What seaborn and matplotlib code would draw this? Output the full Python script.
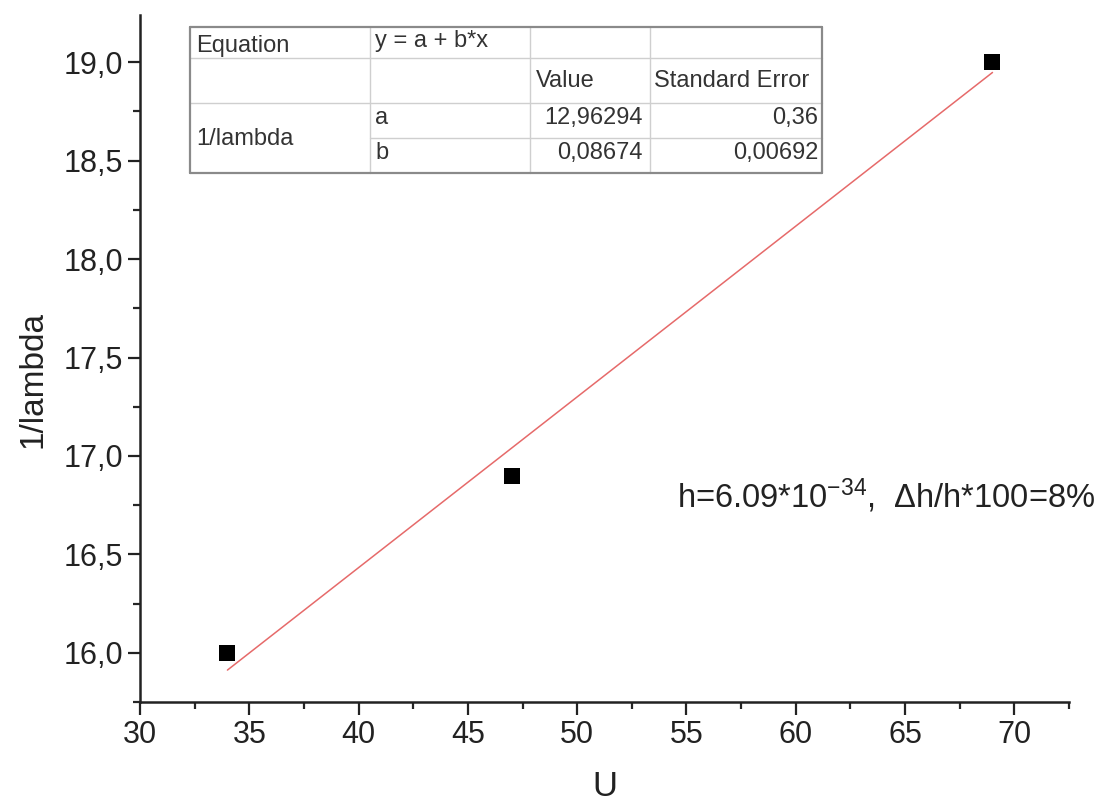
import numpy as np
import pandas as pd
import seaborn as sns
import matplotlib.pyplot as plt
from matplotlib.ticker import MultipleLocator, FuncFormatter
from matplotlib.lines import Line2D

# measured points
U = [34, 47, 69]
inv_lambda = [16.0, 16.9, 19.0]

# fit summary table (as printed on the chart)
tab_equation = 'y = a + b*x'
tab_header = ['Value', 'Standard Error']
tab_params = ['a', 'b']
tab_values = ['12,96294', '0,08674']
tab_errors = ['0,36', '0,00692']
tab_dep = '1/lambda'

note = r'h=6.09*10$^{-34}$,  Δh/h*100=8%'

sns.set_style('ticks')
plt.rcParams['font.family'] = ['Liberation Sans', 'DejaVu Sans']
plt.rcParams['mathtext.fontset'] = 'custom'
plt.rcParams['mathtext.rm'] = 'Liberation Sans'
plt.rcParams['mathtext.it'] = 'Liberation Sans:italic'

df = pd.DataFrame({'U': U, '1/lambda': inv_lambda})

W, H = 1105, 810
fig = plt.figure(figsize=(W / 100, H / 100), dpi=100)
ax = fig.add_axes([140 / W, 1 - 702 / H, (1069 - 140) / W, (702 - 15) / H])

sns.regplot(data=df, x='U', y='1/lambda', ci=None, truncate=True, scatter=False,
            line_kws={'color': '#e66a6a', 'lw': 1.1}, ax=ax)
sns.scatterplot(data=df, x='U', y='1/lambda', marker='s', s=140, color='black',
                edgecolor='black', linewidth=0, ax=ax, zorder=5)

ax.set_xlim(30, 72.5)
ax.set_ylim(15.75, 19.24)
ax.xaxis.set_major_locator(MultipleLocator(5))
ax.xaxis.set_minor_locator(MultipleLocator(2.5))
ax.yaxis.set_major_locator(MultipleLocator(0.5))
ax.yaxis.set_minor_locator(MultipleLocator(0.25))
ax.yaxis.set_major_formatter(FuncFormatter(lambda v, p: f'{v:.1f}'.replace('.', ',')))
ax.tick_params(which='major', length=9, width=1.6, labelsize=22, colors='#222222', pad=4)
ax.tick_params(which='minor', length=5, width=1.6)
ax.tick_params(axis='y', which='major', pad=3)
sns.despine(ax=ax)
for s in ['left', 'bottom']:
    ax.spines[s].set_linewidth(1.8)
    ax.spines[s].set_color('#222222')

ax.set_xlabel('U', fontsize=25, color='#222222', labelpad=14)
ax.set_ylabel('1/lambda', fontsize=24, color='#222222')
ax.yaxis.set_label_coords(-0.099, 0.47)

ax.text(54.58, 16.8, note, fontsize=23.5, color='#222222', va='center', ha='left')

# table drawn in figure pixel coordinates
def fx(x):
    return x / W

def fy(y):
    return 1 - y / H

def hline(x0, x1, y, c='#cfcfcf', lw=1.0):
    fig.add_artist(Line2D([fx(x0), fx(x1)], [fy(y), fy(y)], color=c, lw=lw))

def vline(x, y0, y1, c='#cfcfcf', lw=1.0):
    fig.add_artist(Line2D([fx(x), fx(x)], [fy(y0), fy(y1)], color=c, lw=lw))

L, R, T, B = 190, 822, 27, 173
fig.patches.append(plt.Rectangle((fx(L), fy(B)), fx(R) - fx(L), fy(T) - fy(B),
                                 transform=fig.transFigure, facecolor='white',
                                 edgecolor='none', zorder=0))
hline(L, R, 58)
hline(L, R, 103)
hline(370, R, 138)
for xv in [370, 530, 650]:
    vline(xv, T, B)
hline(L, R, T, c='#8a8a8a', lw=1.6)
hline(L, R, B, c='#8a8a8a', lw=1.6)
vline(L, T, B, c='#8a8a8a', lw=1.6)
vline(R, T, B, c='#8a8a8a', lw=1.6)

tk = dict(fontsize=17, color='#333333', va='center')
fig.text(fx(196), fy(46), 'Equation', ha='left', **tk)
fig.text(fx(375), fy(41), tab_equation, ha='left', **tk)
fig.text(fx(536), fy(81), tab_header[0], ha='left', **tk)
fig.text(fx(654), fy(81), tab_header[1], ha='left', **tk)
fig.text(fx(196), fy(139), tab_dep, ha='left', **tk)
for i, yy in enumerate([118, 153]):
    fig.text(fx(375), fy(yy), tab_params[i], ha='left', **tk)
    fig.text(fx(643), fy(yy), tab_values[i], ha='right', **tk)
    fig.text(fx(818), fy(yy), tab_errors[i], ha='right', **tk)

fig.savefig('out.png', dpi=100)
